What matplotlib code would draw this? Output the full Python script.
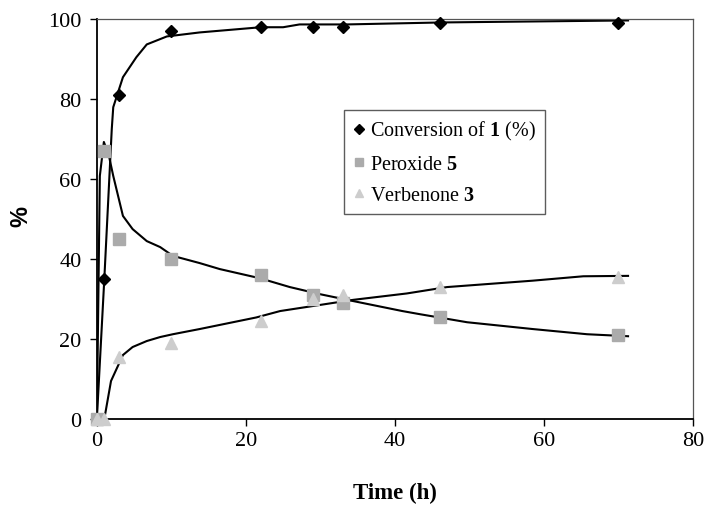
import matplotlib
matplotlib.use("Agg")
from matplotlib import pyplot as plt

plt.rcParams['font.family'] = ['Liberation Serif', 'DejaVu Serif']
plt.rcParams['mathtext.fontset'] = 'custom'
plt.rcParams['mathtext.rm'] = 'Liberation Serif'
plt.rcParams['mathtext.bf'] = 'Liberation Serif:bold'

# measured points
time_h = [0, 1, 3, 10, 22, 29, 33, 46, 70]
conversion = [0, 35, 81, 97, 98, 98, 98, 99, 99]
peroxide = [0, 67, 45, 40, 36, 31, 29, 25.5, 21]
verbenone = [0, 0, 15.5, 19, 24.5, 30, 31, 33, 35.5]

# trend lines
conv_fit_t = [0, 1, 2, 2.2, 3.5, 5.3, 6.7, 9.4, 13.8, 22, 25, 27.2, 33.5, 46.4, 71.3]
conv_fit_v = [0, 35, 72.5, 78, 85.5, 90.5, 93.7, 95.7, 96.7, 98, 98, 98.7, 98.7, 99.2, 99.7]

perox_fit_t = [0, 0.4, 0.94, 1.6, 2.2, 3.5, 4.8, 6.7, 8.5, 10.2, 13.8, 16.5, 21.9,
               25.9, 30, 34.4, 41, 43.4, 49.7, 58.5, 65.8, 71.3]
perox_fit_v = [0, 60.8, 69.3, 66, 60.8, 50.8, 47.5, 44.5, 43, 40.8, 39, 37.5, 35.2,
               33, 31.2, 29.5, 27, 26.2, 24.2, 22.5, 21.2, 20.7]

verb_fit_t = [1, 1.9, 3.5, 4.8, 6.7, 8.5, 10.2, 13.8, 21.4, 24.6, 34.4, 41.6, 47,
              58.5, 65.3, 71.3]
verb_fit_v = [0, 9.5, 16, 18, 19.5, 20.5, 21.2, 22.5, 25.4, 27, 29.8, 31.4, 33,
              34.6, 35.7, 35.8]

fig = plt.figure(figsize=(7.07, 5.06), dpi=100)
ax = fig.add_axes([0.137, 0.170, 0.843, 0.790])

ax.plot(conv_fit_t, conv_fit_v, color='black', lw=1.5, zorder=2)
ax.plot(perox_fit_t, perox_fit_v, color='black', lw=1.5, zorder=2)
ax.plot(verb_fit_t, verb_fit_v, color='black', lw=1.5, zorder=2)

ax.plot(time_h, conversion, ls='none', marker='D', ms=6.5, color='black',
        label=r'Conversion of $\mathbf{1}$ (%)', zorder=3, clip_on=False)
ax.plot(time_h, peroxide, ls='none', marker='s', ms=8, color='#ababab',
        label=r'Peroxide $\mathbf{5}$', zorder=3, clip_on=False)
ax.plot(time_h, verbenone, ls='none', marker='^', ms=8, color='#cdcdcd',
        label=r'Verbenone $\mathbf{3}$', zorder=3, clip_on=False)

ax.set_xlim(0, 80)
ax.set_ylim(0, 100)
ax.set_xticks([0, 20, 40, 60, 80])
ax.set_yticks([0, 20, 40, 60, 80, 100])
ax.tick_params(labelsize=16, length=5, width=1, direction='out')
ax.tick_params(axis='y', pad=6)
ax.tick_params(axis='x', pad=4)
for side in ['left', 'bottom']:
    ax.spines[side].set_linewidth(1.3)
for side in ['top', 'right']:
    ax.spines[side].set_linewidth(0.9)
    ax.spines[side].set_color('#555555')

ax.set_xlabel('Time (h)', fontsize=16.5, fontweight='bold')
ax.xaxis.set_label_coords(0.5, -0.158)
ax.set_ylabel('%', fontsize=17, fontweight='bold', family=['Liberation Sans', 'DejaVu Sans'])
ax.yaxis.set_label_coords(-0.109, 0.51)

leg = ax.legend(loc='upper left', bbox_to_anchor=(0.414, 0.772), fontsize=14.5,
                frameon=True, fancybox=False, edgecolor='#333333', handlelength=0.6,
                handletextpad=0.25, borderpad=0.45, labelspacing=0.6, markerscale=0.75,
                borderaxespad=0)
leg.get_frame().set_linewidth(1.0)

fig.savefig('out.png', dpi=100, facecolor='white')
